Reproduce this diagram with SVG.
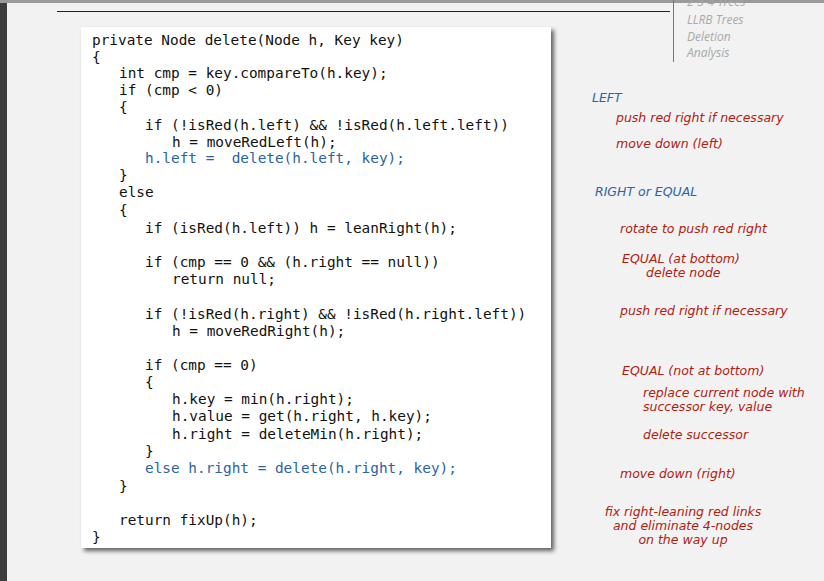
<svg xmlns="http://www.w3.org/2000/svg" width="824" height="581" viewBox="0 0 824 581">
<defs>
<style>
.c{font-family:"DejaVu Sans Mono","Liberation Mono",monospace;font-size:14.4px;fill:#111;white-space:pre}
.b{fill:#2a64a4}
.a{font-family:"DejaVu Sans","Open Sans",sans-serif;font-style:italic;font-size:12.5px;fill:#b3200f}
.ab{fill:#2a64a4}
.n{font-family:"Open Sans","DejaVu Sans",sans-serif;font-style:italic;font-size:12px;fill:#a8a8a8}
</style>
<filter id="sh" x="-5%" y="-5%" width="112%" height="112%"><feDropShadow dx="3" dy="3" stdDeviation="2" flood-color="#000" flood-opacity="0.6"/></filter>
</defs>
<rect width="824" height="581" fill="#f2f2f2"/>
<rect x="0" y="0" width="7" height="581" fill="#3d3d3d"/>
<rect x="0" y="0" width="824" height="3" fill="#9a9a9a"/>
<line x1="57" y1="11.5" x2="670" y2="11.5" stroke="#222" stroke-width="1"/>
<line x1="673.5" y1="0" x2="673.5" y2="62" stroke="#777" stroke-width="1"/>
<g id="nav">
<text class="n" x="687" y="6">2-3-4 Trees</text>
<text class="n" x="687" y="24">LLRB Trees</text>
<text class="n" x="687" y="41">Deletion</text>
<text class="n" x="687" y="57">Analysis</text>
</g>
<g id="code">
<rect x="81" y="27" width="470" height="521" fill="#fff" filter="url(#sh)"/>
<text class="c" x="92" y="45">private Node delete(Node h, Key key)</text>
<text class="c" x="92" y="62">{</text>
<text class="c" x="119" y="78">int cmp = key.compareTo(h.key);</text>
<text class="c" x="119" y="95">if (cmp &lt; 0)</text>
<text class="c" x="119" y="112">{</text>
<text class="c" x="145" y="130">if (!isRed(h.left) &amp;&amp; !isRed(h.left.left))</text>
<text class="c" x="172" y="147">h = moveRedLeft(h);</text>
<text class="c b" x="145" y="163">h.left =  delete(h.left, key);</text>
<text class="c" x="119" y="180">}</text>
<text class="c" x="119" y="197">else</text>
<text class="c" x="119" y="215">{</text>
<text class="c" x="145" y="233">if (isRed(h.left)) h = leanRight(h);</text>
<text class="c" x="145" y="267">if (cmp == 0 &amp;&amp; (h.right == null))</text>
<text class="c" x="172" y="284">return null;</text>
<text class="c" x="145" y="319">if (!isRed(h.right) &amp;&amp; !isRed(h.right.left))</text>
<text class="c" x="172" y="336">h = moveRedRight(h);</text>
<text class="c" x="145" y="370">if (cmp == 0)</text>
<text class="c" x="145" y="387">{</text>
<text class="c" x="172" y="404">h.key = min(h.right);</text>
<text class="c" x="172" y="421">h.value = get(h.right, h.key);</text>
<text class="c" x="172" y="439">h.right = deleteMin(h.right);</text>
<text class="c" x="145" y="456">}</text>
<text class="c b" x="145" y="473">else h.right = delete(h.right, key);</text>
<text class="c" x="119" y="491">}</text>
<text class="c" x="119" y="525">return fixUp(h);</text>
<text class="c" x="92" y="542">}</text>
</g>
<g id="notes">
<text class="a ab" x="592" y="102">LEFT</text>
<text class="a" x="616" y="122">push red right if necessary</text>
<text class="a" x="616" y="148">move down (left)</text>
<text class="a ab" x="595" y="196">RIGHT or EQUAL</text>
<text class="a" x="620" y="233">rotate to push red right</text>
<text class="a" x="622" y="263">EQUAL (at bottom)</text>
<text class="a" x="646" y="277">delete node</text>
<text class="a" x="620" y="315">push red right if necessary</text>
<text class="a" x="622" y="375">EQUAL (not at bottom)</text>
<text class="a" x="643" y="397">replace current node with</text>
<text class="a" x="643" y="411">successor key, value</text>
<text class="a" x="643" y="439">delete successor</text>
<text class="a" x="620" y="478">move down (right)</text>
<text class="a" x="683" y="516" text-anchor="middle">fix right-leaning red links</text>
<text class="a" x="683" y="530" text-anchor="middle">and eliminate 4-nodes</text>
<text class="a" x="683" y="544" text-anchor="middle">on the way up</text>
</g>
</svg>
